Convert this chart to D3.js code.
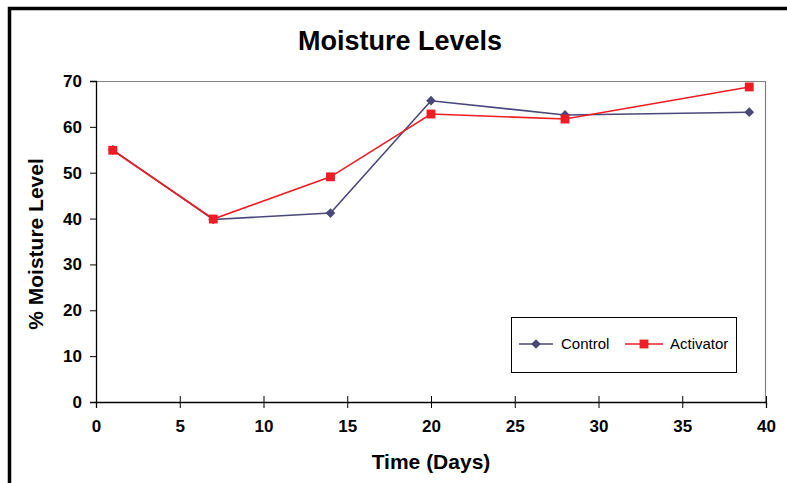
<!DOCTYPE html>
<html>
<head>
<meta charset="utf-8">
<script src="https://cdn.jsdelivr.net/npm/d3@7"></script>
<style>
  html, body { margin: 0; padding: 0; background: #fff; }
  svg { display: block; font-family: "Liberation Sans", Arial, sans-serif; }
</style>
</head>
<body>
<svg id="chart" width="787" height="483"></svg>
<script>
// Sampling days and moisture readings (%)
const days = [1, 7, 14, 20, 28, 39];
const controlValues = [55.0, 39.8, 41.2, 65.7, 62.6, 63.2];
const activatorValues = [54.9, 39.9, 49.1, 62.8, 61.7, 68.7];
const xTicks = [0, 5, 10, 15, 20, 25, 30, 35, 40];
const yTicks = [0, 10, 20, 30, 40, 50, 60, 70];

const series = [
  { name: "Control", values: controlValues, color: "#4a4878", marker: "diamond" },
  { name: "Activator", values: activatorValues, color: "#ee1c25", marker: "square" }
];

const svg = d3.select("#chart");

// Outer frame (left and top edges visible)
svg.append("path")
  .attr("d", "M9.5,490 V8.5 H800")
  .attr("fill", "none")
  .attr("stroke", "#000")
  .attr("stroke-width", 3.5);

const plot = { left: 96, top: 81, right: 766, bottom: 402 };

const x = d3.scaleLinear().domain([0, 40]).range([plot.left, plot.right]);
const y = d3.scaleLinear().domain([0, 70]).range([plot.bottom, plot.top]);

// Plot area border: gray top/right
svg.append("path")
  .attr("d", `M${plot.left},${plot.top + 0.5} H${plot.right - 0.5} V${plot.bottom}`)
  .attr("fill", "none")
  .attr("stroke", "#808080")
  .attr("stroke-width", 1.2);

const tickFont = 17;

// Y axis
const yAxis = svg.append("g")
  .attr("transform", `translate(${plot.left},0)`)
  .call(d3.axisLeft(y).tickValues(yTicks).tickSize(6).tickPadding(8).tickFormat(d3.format("d")));
yAxis.select(".domain").attr("stroke", "#000").attr("stroke-width", 1.3);
yAxis.selectAll(".tick line").attr("stroke", "#000").attr("stroke-width", 1);
yAxis.selectAll(".tick text")
  .attr("font-size", tickFont).attr("font-weight", "bold").attr("fill", "#000")
  .attr("font-family", "Liberation Sans, Arial, sans-serif")
  .attr("dy", "0.32em");

// X axis with ticks crossing the axis line
const xAxis = svg.append("g")
  .attr("transform", `translate(0,${plot.bottom})`)
  .call(d3.axisBottom(x).tickValues(xTicks).tickSize(6).tickPadding(19).tickFormat(d3.format("d")));
xAxis.select(".domain").attr("stroke", "#000").attr("stroke-width", 1.3);
xAxis.selectAll(".tick line").attr("stroke", "#000").attr("stroke-width", 1).attr("y1", -6);
xAxis.selectAll(".tick text")
  .attr("font-size", tickFont).attr("font-weight", "bold").attr("fill", "#000")
  .attr("font-family", "Liberation Sans, Arial, sans-serif")
  .attr("dy", "0.32em");

// Lines
const line = d3.line().x((d, i) => x(days[i])).y(d => y(d));

const diamond = d3.symbol().type(d3.symbolDiamond2).size(60);
const square = d3.symbol().type(d3.symbolSquare2).size(100);

function drawMarker(g, s, cx, cy) {
  const gen = s.marker === "diamond" ? diamond : square;
  g.append("path")
    .attr("d", gen())
    .attr("transform", `translate(${cx},${cy})`)
    .attr("fill", s.color)
    .attr("stroke", "none");
}

series.forEach(s => {
  svg.append("path")
    .datum(s.values)
    .attr("d", line)
    .attr("fill", "none")
    .attr("stroke", s.color)
    .attr("stroke-width", 1.6);
  const g = svg.append("g");
  s.values.forEach((v, i) => drawMarker(g, s, x(days[i]), y(v)));
});

// Title
svg.append("text")
  .attr("x", 400).attr("y", 50)
  .attr("text-anchor", "middle")
  .attr("font-size", 27).attr("font-weight", "bold")
  .text("Moisture Levels");

// Axis titles
svg.append("text")
  .attr("x", 431).attr("y", 469)
  .attr("text-anchor", "middle")
  .attr("font-size", 21).attr("font-weight", "bold")
  .text("Time (Days)");

svg.append("text")
  .attr("transform", "translate(43,244) rotate(-90)")
  .attr("text-anchor", "middle")
  .attr("font-size", 21).attr("font-weight", "bold")
  .text("% Moisture Level");

// Legend
const legend = svg.append("g");
legend.append("rect")
  .attr("x", 511.5).attr("y", 317.5)
  .attr("width", 225).attr("height", 55)
  .attr("fill", "#fff").attr("stroke", "#000").attr("stroke-width", 1);

const legendItems = [
  { s: series[0], x0: 519, x1: 553, tx: 561 },
  { s: series[1], x0: 625, x1: 663, tx: 670 }
];
legendItems.forEach(it => {
  legend.append("line")
    .attr("x1", it.x0).attr("x2", it.x1)
    .attr("y1", 344).attr("y2", 344)
    .attr("stroke", it.s.color).attr("stroke-width", 1.6);
  drawMarker(legend, it.s, (it.x0 + it.x1) / 2, 344);
  legend.append("text")
    .attr("x", it.tx).attr("y", 349)
    .attr("font-size", 15)
    .text(it.s.name);
});
</script>
</body>
</html>
